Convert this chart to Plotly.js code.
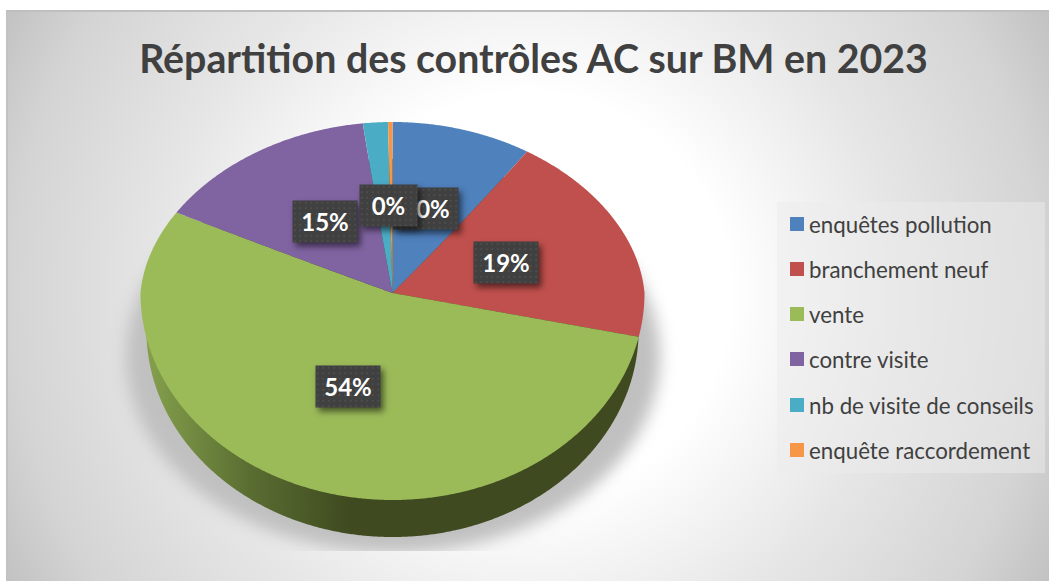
<!DOCTYPE html>
<html><head><meta charset="utf-8">
<script src="https://cdn.plot.ly/plotly-3.0.1.min.js"></script>
<style>
html,body{margin:0;padding:0;background:#fff;overflow:hidden}
#chart{position:absolute;left:0;top:0;width:1049px;height:581px;
background:
 linear-gradient(#bfbfbf,#bfbfbf) no-repeat 6px 10px / 1043px 2px,
 linear-gradient(#c2c2c2,#c2c2c2) no-repeat 6px 10px / 2px 571px,
 radial-gradient(circle 594px at 50% 50%,#ffffff 0%,#ffffff 34%,#e6e6e6 62%,#d4d4d4 87%,#c2c2c2 100%) no-repeat 6px 10px / 1043px 571px;}
</style></head><body><div id="chart"></div>
<script>
const chartTitle = 'Répartition des contrôles AC sur BM en 2023';
const categories = ['enquêtes pollution','branchement neuf','vente','contre visite','nb de visite de conseils','enquête raccordement'];
const shares = [9.5,18.9,54.4,15.2,1.7,0.3];
const colours = ['#4f81bd','#c0504d','#9bbb59','#8064a2','#4bacc6','#f79646'];
const labelled = [0,1,2,3,5];
const labelCentres = [[426,208],[506,262],[348,386],[325,221],[388,206]];

const W=1049,H=581;
const ink='#404040', font='Lato, "Open Sans", sans-serif';
const px=x=>x/W, py=y=>1-y/H;
const total=shares.reduce((a,b)=>a+b,0);

const traces=[
 {type:'pie',name:'flanc',values:[total],labels:['flanc'],sort:false,showlegend:false,textinfo:'none',hoverinfo:'skip',
  marker:{colors:['#3f4a20'],line:{width:0}},domain:{x:[0.1,0.6],y:[0.1,0.9]}},
 {type:'pie',name:'top',values:shares,labels:categories,sort:false,direction:'clockwise',rotation:0,textinfo:'none',
  marker:{colors:colours,line:{width:0}},domain:{x:[0.1,0.6],y:[0.1,0.9]}}
];
const annotations=labelled.map((k,i)=>({
  xref:'paper',yref:'paper',x:px(labelCentres[i][0]),y:py(labelCentres[i][1]),xanchor:'center',yanchor:'middle',
  text:'<b>'+Math.round(shares[k]/total*100)+'%</b>',showarrow:false,
  font:{family:font,size:24,color:'#fff'},bgcolor:'#404040',width:k==5?57:64,height:41,align:'center',valign:'middle',borderpad:0
}));
const layout={
 width:W,height:H,margin:{l:0,r:0,t:0,b:0},paper_bgcolor:'rgba(0,0,0,0)',plot_bgcolor:'rgba(0,0,0,0)',
 font:{family:font,color:ink},
 title:{text:'<b>'+chartTitle+'</b>',font:{family:font,size:39.3,color:ink},x:533.5/W,xanchor:'center',xref:'paper',y:py(59),yanchor:'middle',yref:'paper'},
 legend:{x:px(777),y:py(202),xanchor:'left',yanchor:'top',bgcolor:'rgba(235,235,235,0.5)',font:{family:font,size:22.3,color:ink},itemclick:false,traceorder:'normal'},
 annotations,
 shapes:[{type:'circle',xref:'paper',yref:'paper',layer:'below',x0:px(126),x1:px(660),y0:py(160),y1:py(553),fillcolor:'#c0c0c0',line:{width:0}}]
};
Plotly.newPlot('chart',traces,layout,{displayModeBar:false}).then(gd=>{
 const NS='http://www.w3.org/2000/svg';
 const svg=gd.querySelector('svg.main-svg');
 const defs=document.createElementNS(NS,'defs');
 defs.innerHTML=`
  <linearGradient id="wallGrad" gradientUnits="userSpaceOnUse" x1="147" y1="0" x2="350" y2="0">
   <stop offset="0" stop-color="#84a04c"/><stop offset="0.5" stop-color="#5a6e32"/><stop offset="1" stop-color="#3f4a20"/>
  </linearGradient>
  <pattern id="dots" patternUnits="userSpaceOnUse" width="5.5" height="5.5">
   <rect width="5.5" height="5.5" fill="#404040"/><rect x="2" y="2" width="1.5" height="1.5" fill="#555555"/>
  </pattern>
  <clipPath id="shadowClip"><rect x="0" y="0" width="${W}" height="551"/></clipPath>`;
 svg.insertBefore(defs,svg.firstChild);

 /* Perspective squeeze of the library-drawn circular slices. */
 const warpTop=(u,v)=>{const s=v<0?1+0.06*v:1;return [392.5+u*s*252, 293+(v<0?v*171:v*207)];};
 const warpWall=(u,v)=>[392.5+u*246, 330+(v<0?v*171:v*207)];
 const groups=gd.querySelectorAll('.pielayer .trace');
 groups.forEach((g,ti)=>{
  const cd=gd.calcdata[ti][0], r=cd.r, cx=cd.cx, cy=cd.cy;
  const warp=ti===0?warpWall:warpTop;
  g.querySelectorAll('path.surface').forEach(p=>{
   const len=p.getTotalLength(), n=Math.max(40,Math.ceil(len/1.5));
   const pts=[];
   for(let i=0;i<=n;i++){const q=p.getPointAtLength(len*i/n);pts.push(warp((q.x-cx)/r,(q.y-cy)/r));}
   p.setAttribute('d','M'+pts.map(a=>a[0].toFixed(2)+','+a[1].toFixed(2)).join('L')+'Z');
   if(ti===0) p.style.fill='url(#wallGrad)';
  });
 });

 /* Shadow */
 const sh=gd.querySelector('.shapelayer path');
 if(sh){sh.style.filter='blur(8px)';sh.setAttribute('clip-path','url(#shadowClip)');sh.style.clipPath='url(#shadowClip)';}

 /* Data label boxes */
 gd.querySelectorAll('.annotation').forEach(a=>{
  const rect=a.querySelector('rect.bg');
  if(rect){rect.style.fill='url(#dots)';rect.style.fillOpacity=1;rect.style.filter='drop-shadow(3px 4px 3px rgba(0,0,0,.55))';}
 });

 /* Legend layout */
 const leg=gd.querySelector('.legend');
 leg.querySelector('.scrollbox').removeAttribute('clip-path');
 leg.querySelectorAll('.scrollbox').forEach(s=>s.style.clipPath='none');
 const bg=leg.querySelector('rect.bg'); bg.setAttribute('width',268); bg.setAttribute('height',271);
 const rows=[224,269,314,359,405,450];
 leg.querySelectorAll('.traces').forEach((t,i)=>{
  t.setAttribute('transform','translate(0,'+(rows[i]-202)+')');
  t.querySelectorAll('.legendpoints path').forEach(p=>{p.setAttribute('transform','translate(20,0) scale(1.167)');p.setAttribute('d','M6,6H-6V-6H6Z');p.style.strokeWidth=0;});
  const tx=t.querySelector('text.legendtext'); tx.setAttribute('x',32); 
 });
});
</script></body></html>
